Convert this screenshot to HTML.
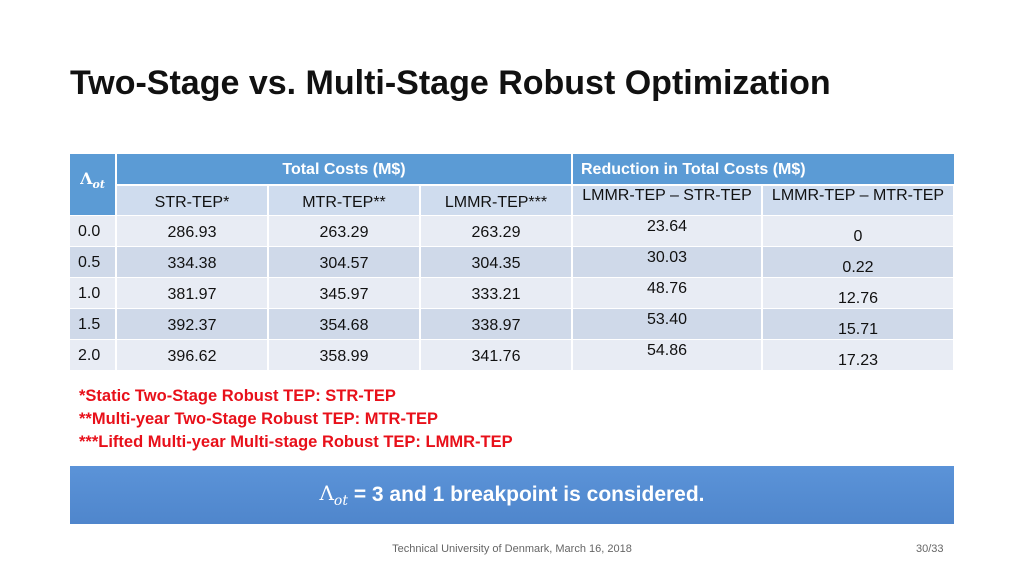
<!DOCTYPE html>
<html><head><meta charset="utf-8"><style>
body{margin:0;width:1024px;height:576px;background:#fff;position:relative;overflow:hidden;font-family:"Liberation Sans",sans-serif}
.a{position:absolute}
.c{position:absolute;display:flex;align-items:center;justify-content:center;font-size:16px;color:#111;box-sizing:border-box}
.h{background:#5b9bd5;color:#fff;font-weight:bold}
.s{background:#cfdcee}
.l{background:#e8ecf4}.d{background:#cfd9e9}
</style></head><body>
<div class="a" style="left:70px;top:64px;font-size:34px;font-weight:bold;color:#111">Two-Stage vs. Multi-Stage Robust Optimization</div>
<div id="tbl"></div>
<div class="a" style="left:79px;top:385px;font-size:16.5px;font-weight:bold;color:#e8101a;line-height:23px">*Static Two-Stage Robust TEP: STR-TEP<br>**Multi-year Two-Stage Robust TEP: MTR-TEP<br>***Lifted Multi-year Multi-stage Robust TEP: LMMR-TEP</div>
<div class="a" style="left:70px;top:466px;width:884px;height:58px;background:linear-gradient(#5b93d8,#4f86cc);color:#fff;font-weight:bold;font-size:21px;display:flex;align-items:center;justify-content:center"><span style="font-family:'DejaVu Serif',serif;font-weight:normal;font-size:20px">Λ<sub style="font-style:italic;font-size:14px">ot</sub></span>&nbsp;= 3 and 1 breakpoint is considered.</div>
<div class="a" style="left:0;width:1024px;top:543px;text-align:center;font-size:11px;color:#666">Technical University of Denmark, March 16, 2018</div>
<div class="a" style="left:916px;top:543px;font-size:11px;color:#666">30/33</div>
<script>
const lambdas=["0.0","0.5","1.0","1.5","2.0"];
const strTep=["286.93","334.38","381.97","392.37","396.62"];
const mtrTep=["263.29","304.57","345.97","354.68","358.99"];
const lmmrTep=["263.29","304.35","333.21","338.97","341.76"];
const redStr=["23.64","30.03","48.76","53.40","54.86"];
const redMtr=["0","0.22","12.76","15.71","17.23"];
const T=document.getElementById('tbl');
function cell(x,y,w,h,cls,txt,name,extra){const e=document.createElement('div');e.className='c '+cls;


e.style.cssText+=`left:${x}px;top:${y}px;width:${w}px;height:${h}px;`+(extra||'');e.innerHTML=txt;T.appendChild(e);return e;}
const X=[70,116,268,420,572,762,954];
cell(70,154,45,61,'h','<span style="font-family:DejaVu Serif,serif;font-size:16px">Λ<sub style="font-style:italic;font-size:11px">ot</sub></span>','lambda-header','padding-bottom:8px;');
cell(117,154,454,30,'h','Total Costs (M$)','total-costs-header','padding-top:2px;');
cell(573,154,381,30,'h','Reduction in Total Costs (M$)','reduction-header','justify-content:flex-start;padding-left:8px;padding-top:2px;');
const sub=["STR-TEP*","MTR-TEP**","LMMR-TEP***","LMMR-TEP – STR-TEP","LMMR-TEP – MTR-TEP"];
for(let i=0;i<5;i++)cell(X[i+1]+1,186,X[i+2]-X[i+1]-2,29,'s',sub[i],'column-header',i>=3?'align-items:flex-start;padding-top:1px;':'padding-top:4px;');
for(let r=0;r<5;r++){const y=216+r*31,cl=r%2?'d':'l';
cell(70,y,45,30,cl,lambdas[r],'lambda-cell','justify-content:flex-start;padding-left:8px;padding-top:2px;');
const v=[strTep[r],mtrTep[r],lmmrTep[r],redStr[r],redMtr[r]];
for(let i=0;i<5;i++){const ex=i==3?'align-items:flex-start;padding-top:2px;':i==4?'align-items:flex-end;padding-bottom:0px;':'padding-top:4px;';
cell(X[i+1]+1,y,X[i+2]-X[i+1]-2,30,cl,v[i],'value-cell',ex);}}
</script>
</body></html>
